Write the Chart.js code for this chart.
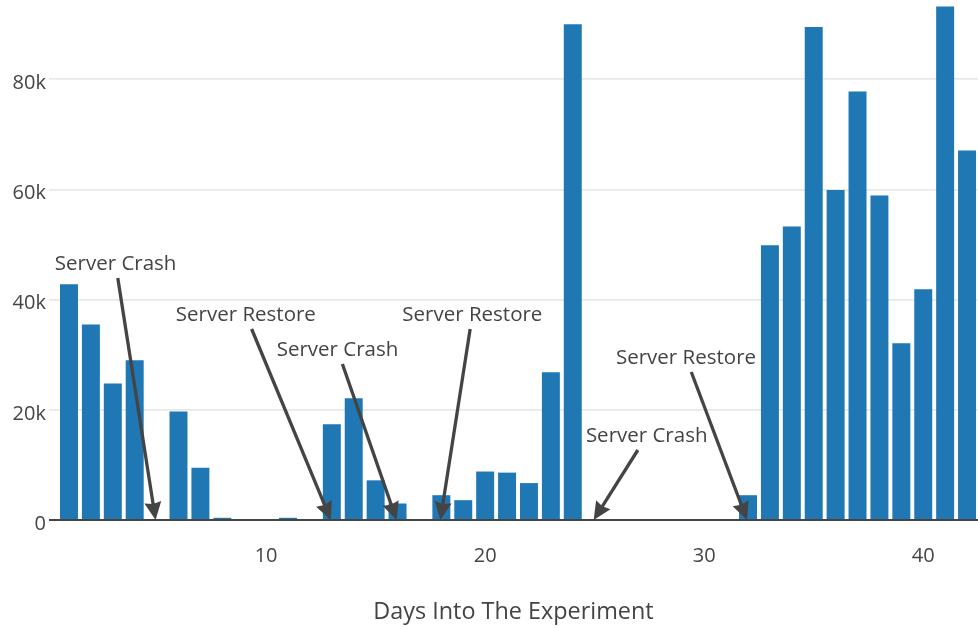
<!DOCTYPE html>
<html>
<head>
<meta charset="utf-8">
<script src="https://cdn.jsdelivr.net/npm/chart.js@4.4.1/dist/chart.umd.min.js"></script>
<style>
html, body { margin: 0; padding: 0; background: #fff; overflow: hidden; }
</style>
</head>
<body>
<canvas id="grafico" width="978" height="629"></canvas>
<script>
// Datos del gráfico
var dias = [1, 2, 3, 4, 5, 6, 7, 8, 9, 10, 11, 12, 13, 14, 15, 16, 17, 18, 19, 20, 21,
            22, 23, 24, 25, 26, 27, 28, 29, 30, 31, 32, 33, 34, 35, 36, 37, 38, 39, 40, 41, 42];
var valores = [42800, 35500, 24800, 29000, 0, 19700, 9500, 400, 0, 150, 400, 100, 17400, 22100,
               7200, 3000, 0, 4500, 3600, 8800, 8600, 6700, 26800, 90000, 100, 0, 100, 100,
               100, 100, 100, 4500, 49900, 53300, 89500, 59900, 77800, 58900, 32100, 41900, 93200, 67100];
var ticksY = [0, 20000, 40000, 60000, 80000];
var ticksX = [10, 20, 30, 40];
var tituloX = 'Days Into The Experiment';

// Anotaciones (día señalado y texto)
var eventosDias = [5, 13, 16, 18, 25, 32];
var eventosTextos = ['Server Crash', 'Server Restore', 'Server Crash', 'Server Restore', 'Server Crash', 'Server Restore'];
// desplazamiento del texto respecto a la punta de la flecha (px)
var eventosDesp = [[-40, -256], [-85, -205], [-59, -170], [32, -205], [53, -84], [-61, -162]];

var GRIS = '#444';

// Plugin: línea del cero y flechas con texto
var pluginAnotaciones = {
    id: 'anotaciones',
    afterDatasetsDraw: function(chart) {
        var ctx = chart.ctx;
        var ejeX = chart.scales.x;
        var ejeY = chart.scales.y;
        var area = chart.chartArea;
        var y0 = ejeY.getPixelForValue(0);

        ctx.save();
        ctx.strokeStyle = GRIS;
        ctx.lineWidth = 2;
        ctx.beginPath();
        ctx.moveTo(area.left, y0);
        ctx.lineTo(area.right, y0);
        ctx.stroke();

        ctx.font = '20.5px "Open Sans"';
        ctx.textAlign = 'center';
        ctx.textBaseline = 'middle';

        for (let i = 0; i < eventosDias.length; i++) {
            const px = ejeX.getPixelForValue(eventosDias[i]) - 1;
            const py = y0;
            const cx = px + eventosDesp[i][0];
            const cy = py + eventosDesp[i][1];
            const medioAncho = ctx.measureText(eventosTextos[i]).width / 2 + 3;
            const medioAlto = 14;

            const dx = px - cx, dy = py - cy;
            const t = Math.min(medioAncho / Math.abs(dx || 0.001), medioAlto / Math.abs(dy || 0.001));
            const sx = cx + dx * t, sy = cy + dy * t;
            const largo = Math.hypot(dx, dy);
            const ux = dx / largo, uy = dy / largo;
            const cabeza = 18, alaCabeza = 8.5;

            // línea de la flecha
            ctx.strokeStyle = GRIS;
            ctx.lineWidth = 3.3;
            ctx.beginPath();
            ctx.moveTo(sx, sy);
            ctx.lineTo(px - ux * cabeza * 0.8, py - uy * cabeza * 0.8);
            ctx.stroke();

            // punta de la flecha
            ctx.fillStyle = GRIS;
            ctx.beginPath();
            ctx.moveTo(px, py);
            ctx.lineTo(px - ux * cabeza - uy * alaCabeza, py - uy * cabeza + ux * alaCabeza);
            ctx.lineTo(px - ux * cabeza * 0.9, py - uy * cabeza * 0.9);
            ctx.lineTo(px - ux * cabeza + uy * alaCabeza, py - uy * cabeza - ux * alaCabeza);
            ctx.closePath();
            ctx.fill();

            ctx.fillText(eventosTextos[i], cx, cy);
        }
        ctx.restore();
    }
};

Chart.defaults.font.family = '"Open Sans", sans-serif';
Chart.defaults.color = GRIS;

var ctx = document.getElementById('grafico').getContext('2d');
var grafico = new Chart(ctx, {
    type: 'bar',
    data: {
        datasets: [{
            data: dias.map(function(d, i) { return {x: d, y: valores[i]}; }),
            backgroundColor: '#1f77b4',
            borderWidth: 0,
            categoryPercentage: 1,
            barPercentage: 0.82
        }]
    },
    options: {
        responsive: false,
        devicePixelRatio: 1,
        animation: false,
        layout: { padding: 0 },
        plugins: {
            legend: { display: false },
            tooltip: { enabled: false }
        },
        scales: {
            x: {
                type: 'linear',
                offset: false,
                min: 0.0877,
                max: 42.5,
                grid: { display: false },
                border: { display: false },
                ticks: {
                    font: { size: 20 },
                    color: GRIS,
                    padding: 16,
                    maxRotation: 0
                },
                title: {
                    display: true,
                    text: tituloX,
                    font: { size: 23.4 },
                    color: GRIS,
                    padding: { top: 0, bottom: 3 }
                },
                afterBuildTicks: function(eje) {
                    eje.ticks = ticksX.map(function(v) { return {value: v}; });
                },
                afterFit: function(eje) {
                    eje.height = 109;
                    eje.paddingLeft = 0;
                    eje.paddingRight = 0;
                }
            },
            y: {
                type: 'linear',
                min: 0,
                max: 94400,
                grid: {
                    color: function(c) { return c.tick && c.tick.value === 0 ? 'rgba(0,0,0,0)' : '#e8e8e8'; },
                    lineWidth: 1.7,
                    drawTicks: false
                },
                border: { display: false },
                ticks: {
                    font: { size: 20 },
                    color: GRIS,
                    padding: 3,
                    labelOffset: 4,
                    callback: function(v) { return v === 0 ? '0' : (v / 1000) + 'k'; }
                },
                afterBuildTicks: function(eje) {
                    eje.ticks = ticksY.map(function(v) { return {value: v}; });
                },
                afterFit: function(eje) {
                    eje.width = 49;
                    eje.paddingTop = 0;
                    eje.paddingBottom = 0;
                }
            }
        }
    },
    plugins: [pluginAnotaciones]
});
</script>
</body>
</html>
